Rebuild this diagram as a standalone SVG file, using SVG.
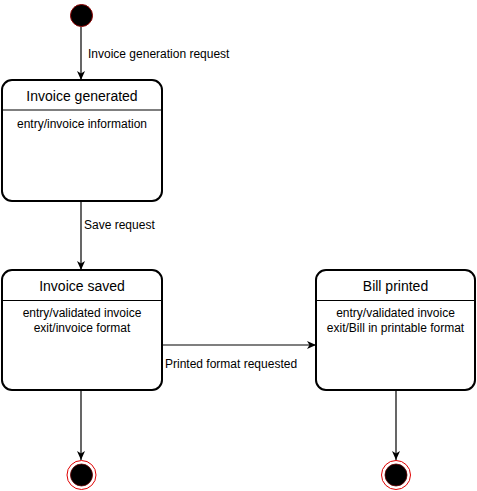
<svg xmlns="http://www.w3.org/2000/svg" width="477" height="491" viewBox="0 0 477 491">
<defs>
<marker id="arr" markerUnits="userSpaceOnUse" markerWidth="10" markerHeight="10" viewBox="0 0 10 10" refX="9" refY="5" orient="auto">
<path d="M0,1 L9,5 L0,9 L2.5,5 Z" fill="#000"/>
</marker>
<style>
.box{fill:#fff;stroke:#000;stroke-width:2}
.div{stroke:#000;stroke-width:1.2}
.title{font-family:"Liberation Sans",Arial,sans-serif;font-size:14px;text-anchor:middle;fill:#000}
.body{font-family:"Liberation Sans",Arial,sans-serif;font-size:12px;text-anchor:middle;fill:#000}
.lbl{font-family:"Liberation Sans",Arial,sans-serif;font-size:12px;fill:#000}
.edge{fill:none;stroke:#000;stroke-width:1.2;marker-end:url(#arr)}
.start{fill:#000;stroke:#8b0000;stroke-width:1}
.endo{fill:#fff;stroke:#e00000;stroke-width:1}
.endi{fill:#000;stroke:#600;stroke-width:0.8}
</style>
</defs>
<rect width="477" height="491" fill="#fff"/>
<g id="connectors">
<path class="edge" d="M81,27 L81,80"/>
<path class="edge" d="M81,201 L81,270"/>
<path class="edge" d="M162,345 L316,345"/>
<path class="edge" d="M81,390 L81,460"/>
<path class="edge" d="M396,390 L396,460"/>
<text class="lbl" x="88" y="58">Invoice generation request</text>
<text class="lbl" x="84" y="229">Save request</text>
<text class="lbl" x="165" y="368">Printed format requested</text>
</g>
<g id="start">
<circle class="start" cx="81.5" cy="15.5" r="11"/>
</g>
<g id="invoice-generated">
<rect class="box" x="2" y="80" width="160" height="121" rx="10"/>
<line class="div" x1="2" y1="110" x2="162" y2="110"/>
<text class="title" x="82" y="101">Invoice generated</text>
<text class="body" x="82" y="128">entry/invoice information</text>
</g>
<g id="invoice-saved">
<rect class="box" x="2" y="270" width="160" height="120" rx="10"/>
<line class="div" x1="2" y1="300.5" x2="162" y2="300.5"/>
<text class="title" x="82" y="291">Invoice saved</text>
<text class="body" x="82" y="317">entry/validated invoice</text>
<text class="body" x="82" y="331.5">exit/invoice format</text>
</g>
<g id="bill-printed">
<rect class="box" x="316" y="270" width="159" height="120" rx="10"/>
<line class="div" x1="316" y1="300.5" x2="475" y2="300.5"/>
<text class="title" x="395.5" y="291">Bill printed</text>
<text class="body" x="395.5" y="317">entry/validated invoice</text>
<text class="body" x="395.5" y="331.5">exit/Bill in printable format</text>
</g>
<g id="end1">
<circle class="endo" cx="81.5" cy="475" r="14.5"/>
<circle class="endi" cx="81.5" cy="475" r="11"/>
</g>
<g id="end2">
<circle class="endo" cx="396" cy="475" r="14.5"/>
<circle class="endi" cx="396" cy="475" r="11"/>
</g>
</svg>
